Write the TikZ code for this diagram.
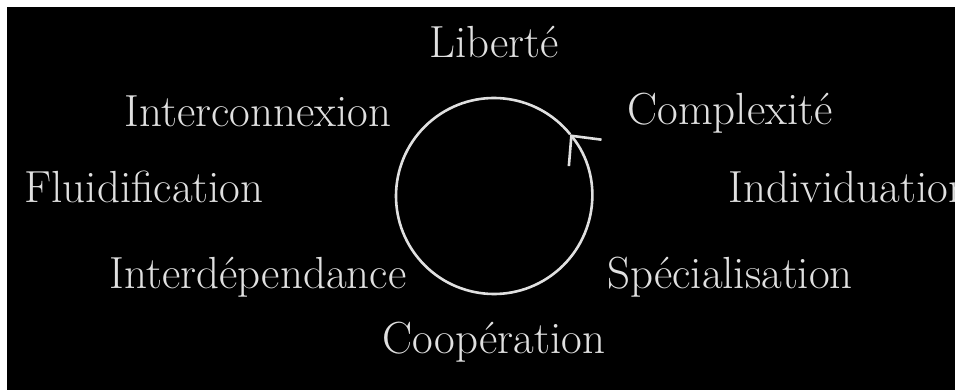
\documentclass[tikz,border=0pt]{standalone}
\usetikzlibrary{arrows.meta}
\definecolor{chalk}{HTML}{E0E0E0}

\begin{document}
\begin{tikzpicture}[x=1pt,y=1pt,
  word/.style={text=chalk, font=\fontsize{45}{54}\selectfont, anchor=base, inner sep=0pt}]
\def\cx{494}
\def\cy{-196}
\def\rad{98}

\useasboundingbox (0,0) rectangle (955,-390);
\fill[white] (0,0) rectangle (955,-390);
\fill[black] (7,-7) rectangle (955,-390);

% words round the cycle
\node[word] (liberte) at (\cx,-58) {Liberté};
\node[word] (interconnexion) at (258,-127) {Interconnexion};
\node[word] (complexite) at (730,-125) {Complexité};
\node[word] (fluidification) at (144,-203) {Fluidification};
\node[word] (individuation) at (850,-203) {Individuation};
\node[word] (interdependance) at (258,-288) {Interdépendance};
\node[word] (specialisation) at (730,-288) {Spécialisation};
\node[word] (cooperation) at (\cx,-353) {Coopération};

% the cycle, turning left
\coordinate (c) at (\cx,\cy);
\draw[chalk, line width=2.6pt, -{Straight Barb[length=22pt,width=42pt]}]
  ([shift={(39:\rad)}]c) arc (39:399:\rad);
\end{tikzpicture}
\end{document}
